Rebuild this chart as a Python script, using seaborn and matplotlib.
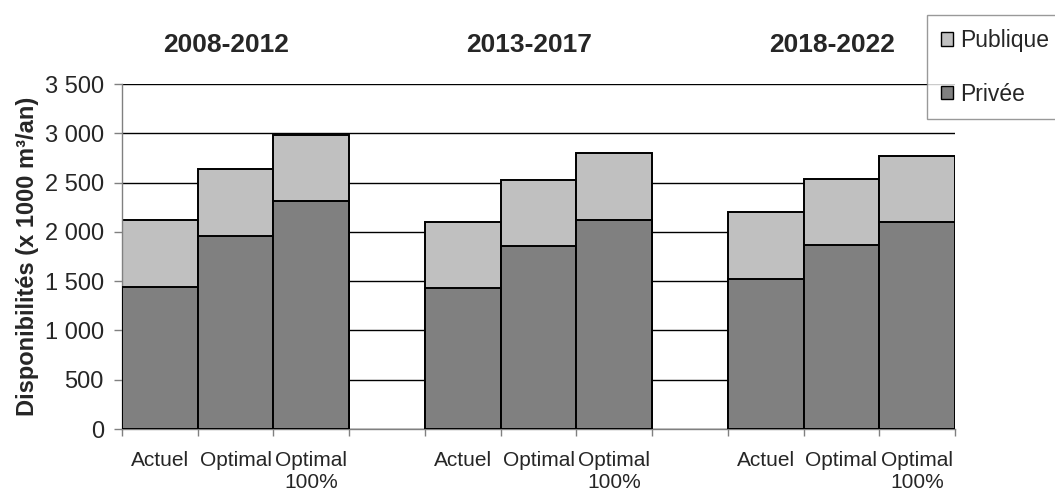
import pandas as pd
import matplotlib
matplotlib.use("Agg")
import matplotlib.pyplot as plt
import matplotlib.transforms as mtransforms
from matplotlib.patches import Patch
from matplotlib.ticker import FuncFormatter
import seaborn as sns

# Chart data
periodes = ["2008-2012", "2013-2017", "2018-2022"]
scenarios = ["Actuel", "Optimal", "Optimal\n100%"]
privee = [1436, 1953, 2314, 1435, 1854, 2122, 1524, 1871, 2102]
publique = [686, 689, 666, 667, 670, 674, 673, 670, 670]

COL_PUB = "#C0C0C0"
COL_PRIV = "#808080"


def build_frame():
    rows = []
    k = 0
    for g, per in enumerate(periodes):
        for i, sc in enumerate(scenarios):
            rows.append({
                "periode": per,
                "scenario": sc,
                "pos": g * (len(scenarios) + 1) + i,
                "privee": privee[k],
                "publique": publique[k],
            })
            k += 1
    df = pd.DataFrame(rows)
    df["total"] = df["privee"] + df["publique"]
    return df


def thousands(v, _):
    return f"{int(v):,}".replace(",", " ")


df = build_frame()

sns.set_style("white")
plt.rcParams["font.family"] = ["Liberation Sans", "DejaVu Sans"]

fig = plt.figure(figsize=(10.55, 4.94), dpi=100)
ax = fig.add_axes([122 / 1055, 1 - 429 / 494, (955 - 122) / 1055, (429 - 84) / 494])

# stacked bars: total (publique on top) then privee over it
sns.barplot(data=df, x="pos", y="total", native_scale=True, width=1,
            color=COL_PUB, saturation=1, edgecolor="black", linewidth=1.4,
            errorbar=None, ax=ax, zorder=2)
sns.barplot(data=df, x="pos", y="privee", native_scale=True, width=1,
            color=COL_PRIV, saturation=1, edgecolor="black", linewidth=1.4,
            errorbar=None, ax=ax, zorder=3)

ax.set_xlim(-0.5, df["pos"].max() + 0.5)
ax.set_ylim(0, 3500)
ax.set_yticks(range(0, 3501, 500))
ax.yaxis.set_major_formatter(FuncFormatter(thousands))
ax.grid(axis="y", color="black", linewidth=1)
ax.set_axisbelow(True)

# ticks at bar edges, labels at bar centres
edges = sorted(set(list(df["pos"] - 0.5) + list(df["pos"] + 0.5)))
ax.set_xticks(edges)
ax.set_xticklabels([])
ax.set_xticks(df["pos"], minor=True)
ax.set_xticklabels(df["scenario"], minor=True, fontsize=15)
ax.tick_params(axis="x", which="major", direction="out", length=5, width=1,
               color="#808080", bottom=True)
ax.tick_params(axis="x", which="minor", length=0, pad=16)
ax.tick_params(axis="y", direction="out", length=6, width=1, color="#808080",
               left=True, labelsize=17, pad=7)

for side in ["top", "right"]:
    ax.spines[side].set_visible(False)
for side in ["left", "bottom"]:
    ax.spines[side].set_color("#808080")
    ax.spines[side].set_linewidth(1)

ax.set_xlabel("")
ax.set_ylabel("Disponibilités (x 1000 m³/an)", fontsize=17, fontweight="bold",
              labelpad=4)

# period titles above each group
trans = mtransforms.blended_transform_factory(ax.transData, fig.transFigure)
for g, per in enumerate(periodes):
    centre = df.loc[df["periode"] == per, "pos"].mean()
    ax.text(centre - 0.12, 1 - 45 / 494, per, transform=trans, ha="center",
            va="center", fontsize=19, fontweight="bold")

handles = [Patch(facecolor=COL_PUB, edgecolor="black", linewidth=1),
           Patch(facecolor=COL_PRIV, edgecolor="black", linewidth=1)]
leg = fig.legend(handles, ["Publique", "Privée"], loc="upper left",
                 bbox_to_anchor=(927 / 1055, 1 - 15 / 494), fontsize=16.5,
                 frameon=True, fancybox=False, edgecolor="#808080",
                 handlelength=0.55, handleheight=0.55, handletextpad=0.3,
                 labelspacing=1.35, borderpad=0.6, borderaxespad=0)
leg.get_frame().set_linewidth(1)

fig.savefig("out.png", dpi=100)
